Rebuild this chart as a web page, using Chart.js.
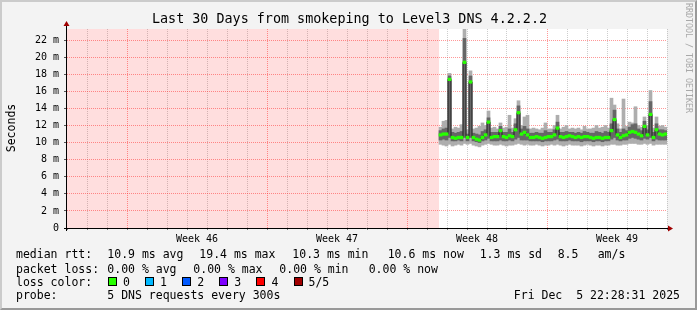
<!DOCTYPE html>
<html>
<head>
<meta charset="utf-8">
<script src="https://cdn.jsdelivr.net/npm/chart.js@4.4.1/dist/chart.umd.min.js"></script>
<style>
  html, body { margin: 0; padding: 0; }
  body {
    width: 697px; height: 310px; overflow: hidden; position: relative;
    background: #f3f3f3; color: #000;
    font-family: 'DejaVu Sans Mono', monospace;
  }
  #graph { position: absolute; left: 0; top: 0; }
  #frame {
    position: absolute; left: 0; top: 0; width: 697px; height: 310px; box-sizing: border-box;
    border-left: 2px solid #cbcbcb; border-top: 2px solid #cbcbcb;
    border-right: 2px solid #999; border-bottom: 2px solid #999; pointer-events: none;
  }
  .t { position: absolute; white-space: pre; font-size: 11.5px; line-height: 12px; }
  #title { position: absolute; left: 1px; top: 12px; width: 697px; text-align: center; font-size: 13.4px; line-height: 14px; white-space: pre; }
  #ytitle { position: absolute; left: -19px; top: 122px; width: 60px; text-align: center; font-size: 11.5px; line-height: 12px; transform: rotate(-90deg); }
  #stamp { position: absolute; left: 684px; top: 3px; writing-mode: vertical-rl; font-size: 8.3px; line-height: 9px; color: #a8a8a8; white-space: pre; }
  .sw { position: absolute; width: 7px; height: 7px; border: 1px solid #000; }
</style>
</head>
<body>
<canvas id="graph" width="697" height="310"></canvas>
<div id="title">Last 30 Days from smokeping to Level3 DNS 4.2.2.2</div>
<div id="ytitle">Seconds</div>
<div id="stamp">RRDTOOL / TOBI OETIKER</div>
<div id="legend"></div>
<div id="frame"></div>
<script>
// 30 day window, one day = one minor grid step
const windowDays = 30;
const weekStarts = [3, 10, 17, 24];
const weekLabels = ['Week 46', 'Week 47', 'Week 48', 'Week 49'];
const unknownSpan = [0, 18.6];      // no data before this point
const sampleStart = 18.6;
const sampleStep = 0.15;             // days per consolidated sample

// ms, per sample: smoke bounds and median
const pingMin = [9.8, 9.7, 9.6, 9.8, 9.6, 9.7, 9.8, 9.7, 9.9, 9.8, 9.9, 9.7, 9.6, 9.5, 9.7, 9.8, 9.9, 9.8, 9.7,
  9.7, 9.8, 9.7, 9.6, 9.7, 9.7, 9.8, 9.9, 9.8, 9.7, 9.8, 9.7, 9.7, 9.8, 9.7, 9.6, 9.7, 9.7, 9.8,
  9.7, 9.8, 9.7, 9.6, 9.7, 9.8, 9.7, 9.7, 9.7, 9.6, 9.7, 9.8, 9.7, 9.6, 9.7, 9.7, 9.6, 9.7, 9.7,
  9.8, 9.8, 9.7, 9.7, 9.8, 9.8, 9.9, 9.9, 9.9, 9.8, 9.8, 9.9, 9.8, 9.9, 9.7, 9.8, 9.8, 9.8, 9.8];
const pingLow = [10.3, 10.4, 10.3, 10.6, 10.2, 10.2, 10.3, 10.2, 10.6, 10.2, 10.6, 10.2, 10.1, 10.0, 10.2, 10.3, 10.5, 10.2, 10.2,
  10.2, 10.3, 10.2, 10.2, 10.3, 10.2, 10.4, 10.6, 10.3, 10.3, 10.3, 10.2, 10.2, 10.2, 10.2, 10.1, 10.2, 10.2, 10.2,
  10.3, 10.4, 10.2, 10.2, 10.2, 10.3, 10.2, 10.2, 10.2, 10.1, 10.2, 10.2, 10.2, 10.1, 10.2, 10.2, 10.1, 10.2, 10.2,
  10.4, 10.6, 10.3, 10.2, 10.3, 10.3, 10.5, 10.6, 10.5, 10.4, 10.3, 10.5, 10.4, 10.6, 10.2, 10.4, 10.3, 10.3, 10.3];
const median = [10.9, 11.0, 11.0, 17.4, 10.6, 10.5, 10.6, 10.6, 19.4, 10.6, 17.1, 10.6, 10.4, 10.3, 10.6, 10.9, 12.4, 10.6, 10.7,
  10.7, 11.4, 10.7, 10.6, 10.8, 10.7, 11.5, 13.5, 11.0, 11.2, 10.9, 10.6, 10.6, 10.7, 10.6, 10.5, 10.6, 10.7, 10.7,
  10.9, 11.7, 10.7, 10.6, 10.7, 10.8, 10.7, 10.6, 10.7, 10.6, 10.7, 10.7, 10.6, 10.5, 10.6, 10.6, 10.5, 10.6, 10.6,
  11.4, 12.7, 10.9, 10.6, 10.8, 10.9, 11.2, 11.3, 11.2, 11.0, 10.8, 11.9, 10.9, 13.3, 10.6, 11.5, 11.0, 10.9, 11.0];
const pingHigh = [11.4, 11.6, 11.7, 17.8, 11.2, 11.1, 11.2, 11.3, 22.2, 11.0, 17.8, 11.1, 11.0, 10.9, 11.3, 11.5, 12.9, 11.2, 11.2,
  11.2, 11.9, 11.2, 11.2, 11.6, 11.2, 12.2, 14.3, 11.6, 11.9, 11.6, 11.1, 11.1, 11.2, 11.1, 11.1, 11.4, 11.2, 11.2,
  11.5, 12.4, 11.2, 11.2, 11.3, 11.2, 11.2, 11.1, 11.2, 11.1, 11.3, 11.2, 11.1, 11.1, 11.3, 11.2, 11.1, 11.3, 11.2,
  12.2, 13.8, 11.6, 11.2, 11.6, 11.4, 11.8, 12.1, 12.2, 11.6, 11.4, 12.5, 11.5, 14.8, 11.2, 12.2, 11.5, 11.5, 11.4];
const pingMax = [11.8, 12.5, 12.6, 18.1, 11.6, 11.8, 11.7, 12.1, 23.3, 11.5, 18.4, 11.6, 11.7, 11.9, 12.3, 12.0, 13.7, 11.7, 11.8,
  11.6, 12.3, 11.7, 11.8, 13.2, 11.7, 12.8, 14.9, 12.0, 13.0, 13.2, 11.6, 11.7, 11.6, 11.5, 11.7, 12.3, 11.6, 11.6,
  12.0, 13.2, 11.6, 11.8, 12.0, 11.6, 11.7, 11.6, 11.7, 11.5, 11.9, 11.6, 11.6, 11.7, 12.0, 11.7, 11.8, 12.0, 11.7,
  15.2, 14.4, 12.2, 11.6, 15.1, 11.9, 12.4, 12.3, 14.2, 12.0, 11.8, 13.0, 12.0, 16.1, 11.7, 13.0, 11.9, 12.0, 11.8];

const yMax = 23.3;

// legend texts
const rttStats = [[16, 'median rtt:'], [107.3, '10.9 ms avg'], [199.3, '19.4 ms max'], [292.3, '10.3 ms min'],
  [387.7, '10.6 ms now'], [479.7, '1.3 ms sd'], [557.7, '8.5'], [597.7, 'am/s']];
const lossStats = [[16, 'packet loss:'], [107.3, '0.00 % avg'], [193.3, '0.00 % max'], [279.3, '0.00 % min'], [368.7, '0.00 % now']];
const lossLabels = ['0', '1', '2', '3', '4', '5/5'];
const lossColors = ['#26ff00', '#00b8ff', '#0059ff', '#7e00ff', '#ff0000', '#a10000'];
const probeText = '5 DNS requests every 300s';
const stampText = 'Fri Dec  5 22:28:31 2025';

function buildLegend() {
  const box = document.getElementById('legend');
  let html = '';
  const line = (items, top) => items.forEach(([x, s]) => {
    html += `<div class="t" style="left:${x}px;top:${top}px">${s}</div>`;
  });
  line(rttStats, 248);
  line(lossStats, 262.5);
  line([[16, 'loss color:']], 276);
  lossLabels.forEach((lbl, k) => {
    const x = 108 + k * 37.1;
    html += `<div class="sw" style="left:${x}px;top:277px;background:${lossColors[k]}"></div>`;
    html += `<div class="t" style="left:${x + 15}px;top:276px">${lbl}</div>`;
  });
  line([[16, 'probe:'], [107.3, probeText]], 289.3);
  html += `<div class="t" style="right:17px;top:289.3px">${stampText}</div>`;
  box.innerHTML = html;
}

const times = median.map((_, i) => sampleStart + sampleStep * (i + 0.5));
const band = (lo, hi) => times.map((t, i) => ({ x: t, y: [lo[i], hi[i]] }));
const greenHalf = 0.15;

const rrdFrame = {
  id: 'rrdFrame',
  beforeDraw(chart) {
    const { ctx, chartArea: a } = chart;
    ctx.save();
    ctx.fillStyle = '#ffffff';
    ctx.fillRect(a.left, a.top, a.right - a.left, a.bottom - a.top);
    ctx.restore();
  },
  beforeDatasetsDraw(chart) {
    const { ctx, chartArea: a, scales: { x } } = chart;
    const x0 = x.getPixelForValue(unknownSpan[0]);
    const x1 = x.getPixelForValue(unknownSpan[1]);
    ctx.save();
    ctx.fillStyle = 'rgba(255,0,0,0.13)';
    ctx.fillRect(x0, a.top, x1 - x0, a.bottom - a.top);
    ctx.restore();
  },
  afterDatasetsDraw(chart) {
    const { ctx, chartArea: a } = chart;
    const ax = a.left - 0.5, ay = a.bottom + 0.5;
    ctx.save();
    ctx.strokeStyle = '#000';
    ctx.lineWidth = 1;
    ctx.beginPath();
    ctx.moveTo(ax, a.bottom + 3);
    ctx.lineTo(ax, a.top - 4);
    ctx.moveTo(a.left - 3, ay);
    ctx.lineTo(a.right + 2, ay);
    ctx.stroke();
    ctx.fillStyle = '#a00000';
    ctx.beginPath();
    ctx.moveTo(ax, a.top - 8);
    ctx.lineTo(ax - 3, a.top - 3);
    ctx.lineTo(ax + 3, a.top - 3);
    ctx.closePath();
    ctx.fill();
    ctx.beginPath();
    ctx.moveTo(a.right + 6, ay);
    ctx.lineTo(a.right + 1, ay - 3);
    ctx.lineTo(a.right + 1, ay + 3);
    ctx.closePath();
    ctx.fill();
    ctx.restore();
  }
};

const majorGrid = 'rgba(255,50,50,0.5)';
const minorGrid = 'rgba(130,130,130,0.4)';
const none = 'rgba(0,0,0,0)';

function initGraph() {
  Chart.defaults.font.family = "'DejaVu Sans Mono', monospace";
  Chart.defaults.color = '#000';

  const barCommon = { grouped: false, barPercentage: 1, categoryPercentage: 1, borderWidth: 0 };

  new Chart(document.getElementById('graph'), {
    type: 'bar',
    data: {
      datasets: [
        { ...barCommon, label: 'loss 0', data: times.map((t, i) => ({ x: t, y: [median[i] - greenHalf, median[i] + greenHalf] })),
          backgroundColor: lossColors[0], order: 1 },
        { type: 'line', label: 'median', data: times.map((t, i) => ({ x: t, y: median[i] })),
          stepped: 'middle', borderColor: '#202020', borderWidth: 1, pointRadius: 0, order: 2 },
        { ...barCommon, label: 'smoke inner', data: band(pingLow, pingHigh), backgroundColor: '#666666', order: 3 },
        { ...barCommon, label: 'smoke outer', data: band(pingMin, pingMax), backgroundColor: '#aeaeae', order: 4 }
      ]
    },
    options: {
      responsive: false,
      animation: false,
      layout: { padding: { left: 0, top: 29, right: 30, bottom: 0 } },
      plugins: { legend: { display: false }, tooltip: { enabled: false } },
      scales: {
        x: {
          type: 'linear', min: 0, max: windowDays, offset: false,
          afterBuildTicks: s => {
            const vals = [];
            for (let d = 0; d <= windowDays; d++) vals.push(d);
            weekStarts.forEach(w => vals.push(w + 3.5));
            s.ticks = vals.sort((p, q) => p - q).map(v => ({ value: v }));
          },
          afterFit: s => { s.height = 82; },
          grid: {
            offset: false,
            color: c => {
              const v = c.tick.value;
              if (!Number.isInteger(v) || v === 0) return none;
              return weekStarts.includes(v) ? majorGrid : minorGrid;
            },
            tickLength: 2,
            tickColor: c => Number.isInteger(c.tick.value) ? '#777' : none,
            tickBorderDash: []
          },
          border: { display: false, dash: [1, 1] },
          ticks: {
            autoSkip: false, maxRotation: 0, padding: 3, font: { size: 10 },
            callback: v => {
              const k = weekStarts.findIndex(w => w + 3.5 === v);
              return k >= 0 ? weekLabels[k] : '';
            }
          }
        },
        y: {
          min: 0, max: yMax,
          afterFit: s => { s.width = 67; },
          grid: {
            color: c => {
              const v = c.tick.value;
              if (!Number.isInteger(v) || v === 0) return none;
              return v % 2 === 0 ? majorGrid : minorGrid;
            },
            tickLength: 3,
            tickColor: c => (c.tick.value % 2 === 0 ? '#555' : none),
            tickBorderDash: []
          },
          border: { display: false, dash: [1, 1] },
          ticks: {
            stepSize: 1, includeBounds: false, padding: 5, font: { size: 10 },
            callback: v => (v === 0 ? '0' : (v % 2 === 0 ? v + ' m' : ''))
          }
        }
      }
    },
    plugins: [rrdFrame]
  });
}

buildLegend();
initGraph();
</script>
</body>
</html>
